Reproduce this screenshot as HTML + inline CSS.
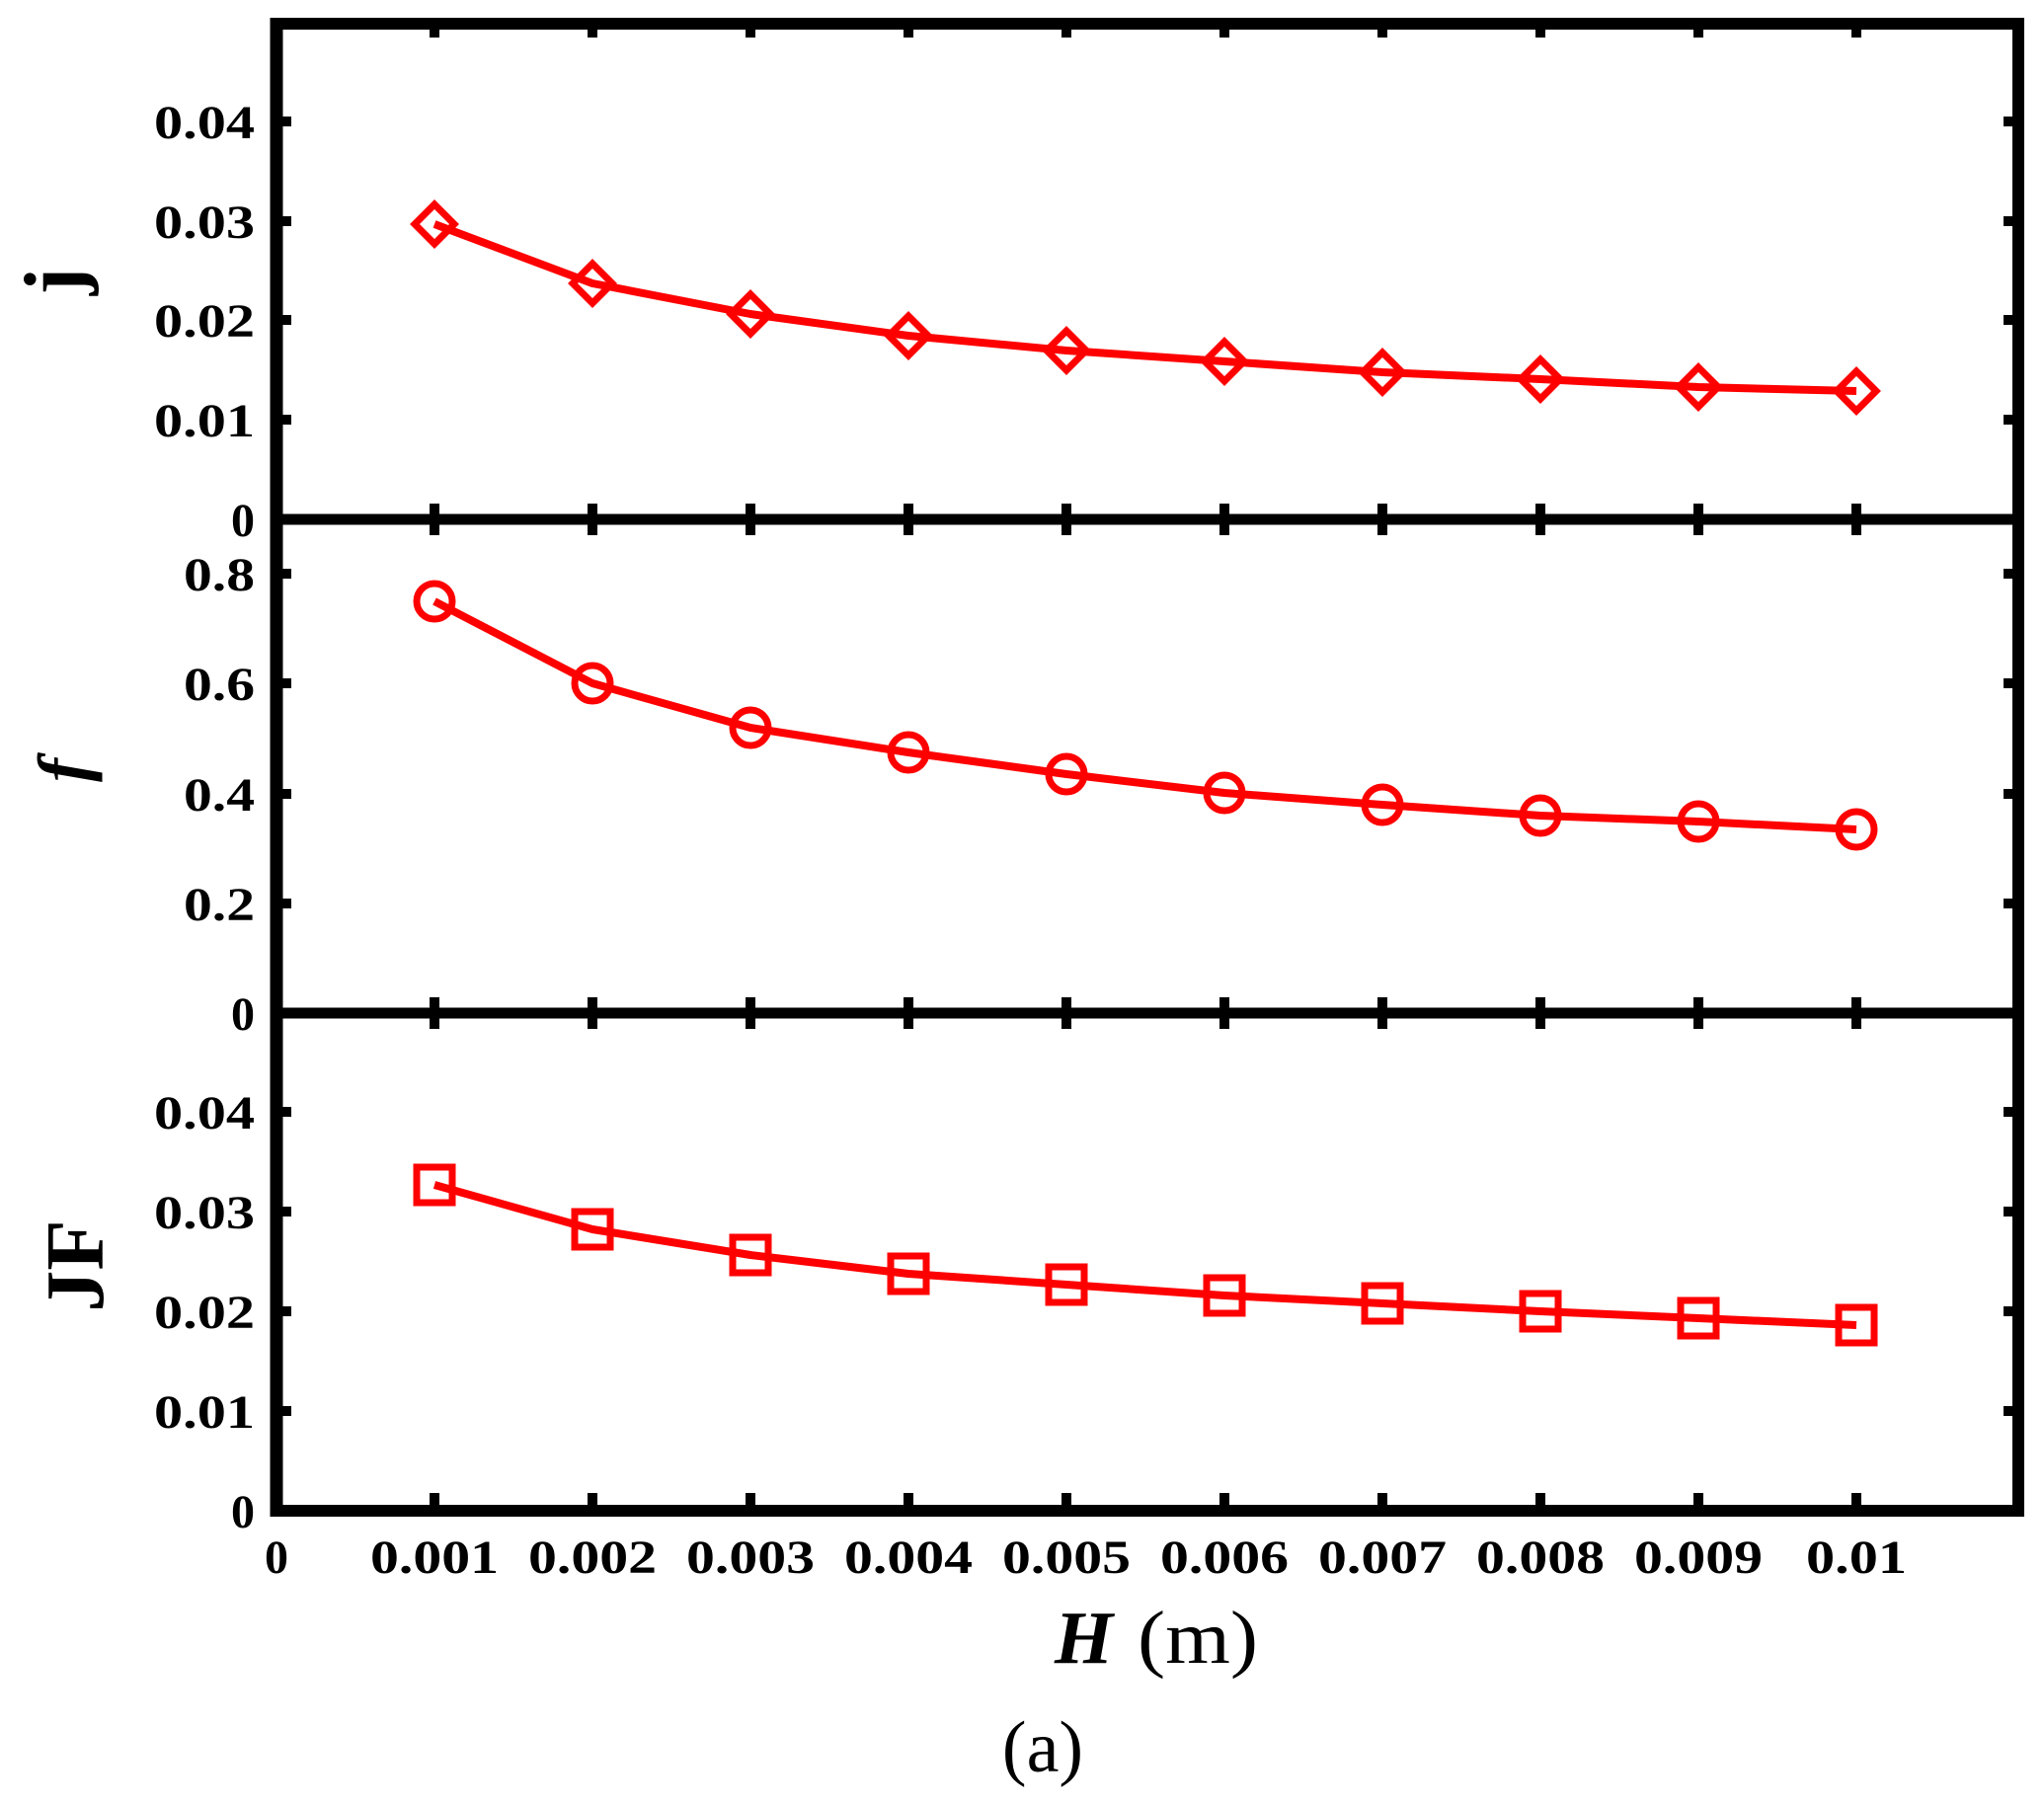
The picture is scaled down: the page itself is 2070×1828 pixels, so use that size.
<!DOCTYPE html>
<html><head><meta charset="utf-8"><style>html,body{margin:0;padding:0;background:#fff}svg{display:block}</style></head>
<body>
<svg width="2070" height="1828" viewBox="0 0 2070 1828" xmlns="http://www.w3.org/2000/svg">
<rect width="2070" height="1828" fill="#fff"/>
<g stroke="#000" fill="none">
<line x1="280" y1="24" x2="2044" y2="24" stroke-width="12"/>
<line x1="280" y1="18" x2="280" y2="1536" stroke-width="13"/>
<line x1="2044" y1="18" x2="2044" y2="1536" stroke-width="12"/>
<line x1="274" y1="526" x2="2050" y2="526" stroke-width="11"/>
<line x1="274" y1="1026" x2="2050" y2="1026" stroke-width="11"/>
<line x1="274" y1="1530" x2="2050" y2="1530" stroke-width="12"/>
</g>
<g stroke="#000" stroke-width="10">
<path d="M440 24v14M600 24v14M760 24v14M920 24v14M1080 24v14M1240 24v14M1400 24v14M1560 24v14M1720 24v14M1880 24v14"/>
<path d="M440 510v32M600 510v32M760 510v32M920 510v32M1080 510v32M1240 510v32M1400 510v32M1560 510v32M1720 510v32M1880 510v32"/>
<path d="M440 1010v32M600 1010v32M760 1010v32M920 1010v32M1080 1010v32M1240 1010v32M1400 1010v32M1560 1010v32M1720 1010v32M1880 1010v32"/>
<path d="M440 1530v-18M600 1530v-18M760 1530v-18M920 1530v-18M1080 1530v-18M1240 1530v-18M1400 1530v-18M1560 1530v-18M1720 1530v-18M1880 1530v-18"/>
</g>
<g stroke="#000" stroke-width="10">
<path d="M280 123h15M280 224h15M280 324h15M280 425h15M2044 123h-15M2044 224h-15M2044 324h-15M2044 425h-15"/>
<path d="M280 72h6M280 173h6M280 274h6M280 375h6M280 475h6M2044 72h-6M2044 173h-6M2044 274h-6M2044 375h-6M2044 475h-6" stroke-width="8"/>
<path d="M280 581h15M280 692h15M280 804h15M280 915h15M2044 581h-15M2044 692h-15M2044 804h-15M2044 915h-15"/>
<path d="M280 637h6M280 748h6M280 859h6M280 970h6M2044 637h-6M2044 748h-6M2044 859h-6M2044 970h-6" stroke-width="8"/>
<path d="M280 1126h15M280 1227h15M280 1328h15M280 1429h15M2044 1126h-15M2044 1227h-15M2044 1328h-15M2044 1429h-15"/>
<path d="M280 1076h6M280 1177h6M280 1278h6M280 1379h6M280 1480h6M2044 1076h-6M2044 1177h-6M2044 1278h-6M2044 1379h-6M2044 1480h-6" stroke-width="8"/>
</g>
<g font-family="Liberation Serif, serif" font-weight="bold" font-size="48" fill="#000" text-anchor="end">
<text x="258" y="140" textLength="102" lengthAdjust="spacingAndGlyphs">0.04</text>
<text x="258" y="241" textLength="102" lengthAdjust="spacingAndGlyphs">0.03</text>
<text x="258" y="341" textLength="102" lengthAdjust="spacingAndGlyphs">0.02</text>
<text x="258" y="442" textLength="102" lengthAdjust="spacingAndGlyphs">0.01</text>
<text x="258" y="543">0</text>
<text x="258" y="598" textLength="72" lengthAdjust="spacingAndGlyphs">0.8</text>
<text x="258" y="709" textLength="72" lengthAdjust="spacingAndGlyphs">0.6</text>
<text x="258" y="821" textLength="72" lengthAdjust="spacingAndGlyphs">0.4</text>
<text x="258" y="932" textLength="72" lengthAdjust="spacingAndGlyphs">0.2</text>
<text x="258" y="1043">0</text>
<text x="258" y="1143" textLength="102" lengthAdjust="spacingAndGlyphs">0.04</text>
<text x="258" y="1244" textLength="102" lengthAdjust="spacingAndGlyphs">0.03</text>
<text x="258" y="1345" textLength="102" lengthAdjust="spacingAndGlyphs">0.02</text>
<text x="258" y="1446" textLength="102" lengthAdjust="spacingAndGlyphs">0.01</text>
<text x="258" y="1547">0</text>
</g>
<g font-family="Liberation Serif, serif" font-weight="bold" font-size="48" fill="#000" text-anchor="middle">
<text x="280" y="1593">0</text>
<text x="440" y="1593" textLength="130" lengthAdjust="spacingAndGlyphs">0.001</text>
<text x="600" y="1593" textLength="130" lengthAdjust="spacingAndGlyphs">0.002</text>
<text x="760" y="1593" textLength="130" lengthAdjust="spacingAndGlyphs">0.003</text>
<text x="920" y="1593" textLength="130" lengthAdjust="spacingAndGlyphs">0.004</text>
<text x="1080" y="1593" textLength="130" lengthAdjust="spacingAndGlyphs">0.005</text>
<text x="1240" y="1593" textLength="130" lengthAdjust="spacingAndGlyphs">0.006</text>
<text x="1400" y="1593" textLength="130" lengthAdjust="spacingAndGlyphs">0.007</text>
<text x="1560" y="1593" textLength="130" lengthAdjust="spacingAndGlyphs">0.008</text>
<text x="1720" y="1593" textLength="130" lengthAdjust="spacingAndGlyphs">0.009</text>
<text x="1880" y="1593" textLength="102" lengthAdjust="spacingAndGlyphs">0.01</text>
</g>
<g font-family="Liberation Serif, serif" fill="#000">
<text x="1068" y="1684" font-size="76" font-style="italic" font-weight="bold">H</text>
<text x="1152" y="1684" font-size="76" textLength="122" lengthAdjust="spacingAndGlyphs">(m)</text>
<text x="1056" y="1794" font-size="74" text-anchor="middle">(a)</text>
<text transform="translate(82,285) rotate(-90)" font-size="84" font-weight="bold" text-anchor="middle">j</text>
<text transform="translate(88,780) rotate(-90)" font-size="72" font-weight="bold" font-style="italic" text-anchor="middle">f</text>
<text transform="translate(104,1282) rotate(-90)" font-size="84" font-weight="bold" text-anchor="middle">JF</text>
</g>
<g fill="none" stroke="#ff0000" stroke-width="8" stroke-linejoin="round">
<polyline points="440,227 600,287 760,318 920,340 1080,355 1240,366 1400,377 1560,384 1720,392 1880,396"/>
<polyline points="440,609 600,692 760,737 920,762 1080,784 1240,803 1400,815 1560,826 1720,832 1880,840"/>
<polyline points="440,1200 600,1245 760,1271 920,1290 1080,1301 1240,1312 1400,1320 1560,1328 1720,1335 1880,1342"/>
</g>
<g fill="none" stroke="#ff0000" stroke-width="7">
<path d="M440 207l20 20l-20 20l-20 -20z"/><path d="M600 267l20 20l-20 20l-20 -20z"/><path d="M760 298l20 20l-20 20l-20 -20z"/><path d="M920 320l20 20l-20 20l-20 -20z"/><path d="M1080 335l20 20l-20 20l-20 -20z"/><path d="M1240 346l20 20l-20 20l-20 -20z"/><path d="M1400 357l20 20l-20 20l-20 -20z"/><path d="M1560 364l20 20l-20 20l-20 -20z"/><path d="M1720 372l20 20l-20 20l-20 -20z"/><path d="M1880 376l20 20l-20 20l-20 -20z"/>
<circle cx="440" cy="609" r="18"/><circle cx="600" cy="692" r="18"/><circle cx="760" cy="737" r="18"/><circle cx="920" cy="762" r="18"/><circle cx="1080" cy="784" r="18"/><circle cx="1240" cy="803" r="18"/><circle cx="1400" cy="815" r="18"/><circle cx="1560" cy="826" r="18"/><circle cx="1720" cy="832" r="18"/><circle cx="1880" cy="840" r="18"/>
<rect x="422" y="1182" width="36" height="36"/><rect x="582" y="1227" width="36" height="36"/><rect x="742" y="1253" width="36" height="36"/><rect x="902" y="1272" width="36" height="36"/><rect x="1062" y="1283" width="36" height="36"/><rect x="1222" y="1294" width="36" height="36"/><rect x="1382" y="1302" width="36" height="36"/><rect x="1542" y="1310" width="36" height="36"/><rect x="1702" y="1317" width="36" height="36"/><rect x="1862" y="1324" width="36" height="36"/>
</g>
</svg>
</body></html>
